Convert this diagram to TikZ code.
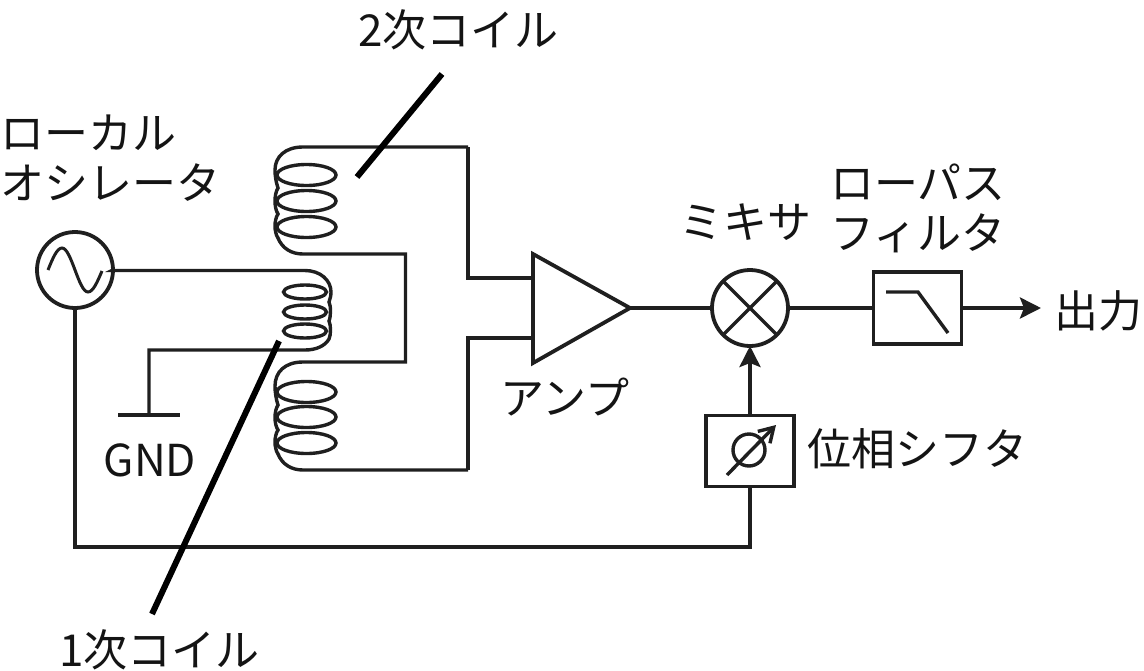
\documentclass[tikz,border=0pt]{standalone}
\usepackage{fontspec}
\setmainfont{Noto Sans CJK JP}
\usetikzlibrary{arrows.meta}

\tikzset{
    wire/.style={line width=3.8pt,color=black!88},
    thinwire/.style={line width=3.4pt,color=black!88},
    leader/.style={line width=6pt,color=black},
    block/.style={draw,wire,rectangle,inner sep=0pt,outer sep=0pt},
    round/.style={draw,wire,circle,inner sep=0pt,outer sep=0pt,minimum size=76pt},
    label/.style={inner sep=0pt,color=black!92,font=\fontsize{44}{50}\selectfont,align=left},
    arrowtip/.style={-{Stealth[length=21pt,width=21pt,inset=4pt]}}
}

\begin{document}
\begin{tikzpicture}[x=1pt,y=-1pt]
        \useasboundingbox (0,0) rectangle (1144,670);

        % blocks
        \node[round] (osc) at (75,270) {};
        \node[round] (mixer) at (750,308) {};
        \node[block,minimum width=88pt,minimum height=72pt] (filter) at (917.5,308) {};
        \node[block,minimum width=88pt,minimum height=71pt] (shifter) at (750,451) {};

        \coordinate (ampA) at (533,254);
        \coordinate (ampB) at (533,363);
        \coordinate (ampC) at (630,308);
        \coordinate (ampIn1) at (533,278);
        \coordinate (ampIn2) at (533,338);
        \coordinate (gnd) at (149,415);
        \coordinate (gndL) at (118,415);
        \coordinate (gndR) at (180,415);
        \coordinate (out) at (1041,308);
        \coordinate (corner) at (75,547);
        \draw[wire,line join=miter] (ampA) -- (ampB) -- (ampC) -- cycle;

        % symbols in the blocks
        \draw[wire,line width=3pt] (48,270) sin (62,248) cos (75,270) sin (88,292) cos (102,271);
        \draw[thinwire] (mixer.45) -- (mixer.225);
        \draw[thinwire] (mixer.135) -- (mixer.315);
        \draw[thinwire] (886,292) -- (918,292) -- (948,333);
        \node[draw,thinwire,circle,inner sep=0pt,minimum size=32pt] (phase) at (749,450) {};
        \draw[thinwire,-{Straight Barb[length=14pt,width=17pt]}] (727,475) -- (776,425);

        % secondary coils
        \foreach \y in {175,201,227,392,417,443}
            \draw[thinwire] (306.5,\y) ellipse (29.5 and 10.5);
        \draw[thinwire] (468,147) -- (303,147)
            .. controls (285,147) and (275,157) .. (275,170)
            .. controls (275,176) and (276,182) .. (278,188)
            .. controls (274,194) and (274,208) .. (278,214)
            .. controls (274,220) and (274,232) .. (278,238)
            .. controls (282,248) and (291,254) .. (303,254) -- (405.5,254)
            -- (405.5,362) -- (303,362)
            .. controls (285,362) and (275,372) .. (275,386)
            .. controls (275,392) and (276,399) .. (278,405)
            .. controls (274,411) and (274,424) .. (278,430)
            .. controls (274,436) and (274,448) .. (278,454)
            .. controls (282,464) and (291,470) .. (303,470) -- (468,470);

        % primary coil
        \foreach \y in {292,312,331}
            \draw[thinwire] (305,\y) ellipse (21.5 and 7);
        \draw[thinwire] (osc.0) -- (112,270.5) -- (305,270.5)
            .. controls (320,270.5) and (331,280) .. (331,292)
            .. controls (331,296) and (330,299) .. (329,302)
            .. controls (331,306) and (331,316) .. (329,321)
            .. controls (331,325) and (331,335) .. (329,339)
            .. controls (325,346) and (316,350) .. (305,350) -- (149,350) -- (gnd);
        \draw[wire] (gndL) -- (gndR);

        % connections
        \draw[wire] (468,147) -- (468,278) -- (ampIn1);
        \draw[wire] (468,470) -- (468,338) -- (ampIn2);
        \draw[wire] (ampC) -- (mixer);
        \draw[wire] (mixer) -- (filter);
        \draw[wire,arrowtip] (filter) -- (out);
        \draw[wire,arrowtip] (shifter) -- (mixer);
        \draw[wire] (osc) -- (corner) -| (shifter);

        % leaders
        \draw[leader] (442,74) -- (357,177);
        \draw[leader] (279,341) -- (152,614);

        % labels
        \node[label,anchor=west] (second) at (358,30) {2次コイル};
        \node[label,anchor=west] (first) at (59,650) {1次コイル};
        \node[label,anchor=west] (osclabel) at (0,158) {ローカル\\オシレータ};
        \node[label,anchor=west] (mixlabel) at (679,222) {ミキサ};
        \node[label,anchor=west] (lpflabel) at (830,208) {ローパス\\フィルタ};
        \node[label,anchor=west] (amplabel) at (500,397) {アンプ};
        \node[label,anchor=west] (shiftlabel) at (807,449) {位相シフタ};
        \node[label,anchor=west] (outlabel) at (1054,311) {出力};
        \node[label] (gndlabel) at (150,460) {GND};
    \end{tikzpicture}
\end{document}
